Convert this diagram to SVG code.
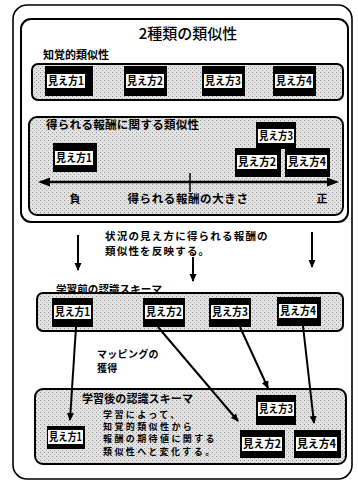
<svg xmlns="http://www.w3.org/2000/svg" width="358" height="490" viewBox="0 0 358 490">
<style>
.t{font-family:"Noto Sans CJK JP","Noto Sans CJK SC",sans-serif;font-weight:bold;fill:#000}
.frame{fill:none;stroke:#000;stroke-width:1.6}
.box{fill:#fff;stroke:#000;stroke-width:2}
.gray{fill:url(#dots);stroke:#000;stroke-width:2}
.nb{fill:#000}
.np{fill:#fff}
.nt{font-family:"Noto Sans CJK JP",sans-serif;font-weight:bold;font-size:11px;fill:#000}
.con{stroke:#000;stroke-width:2;fill:none}
</style>
<defs>
<pattern id="dots" width="4" height="4" patternUnits="userSpaceOnUse">
<rect width="4" height="4" fill="#e2e2e2"/>
<rect x="0" y="0" width="1" height="1" fill="#909090"/>
<rect x="2" y="2" width="1" height="1" fill="#ababab"/>
</pattern>
<marker id="ah" markerWidth="8" markerHeight="8" refX="7" refY="4" orient="auto" markerUnits="userSpaceOnUse">
<path d="M0,0.5 L8,4 L0,7.5 Z" fill="#000"/>
</marker>
</defs>
<rect width="358" height="490" fill="#fff"/>
<rect class="frame" x="13" y="5" width="339" height="474" rx="14"/>
<g id="similarity-box">
<rect class="box" x="21" y="19" width="327" height="203" rx="10"/>
<text class="t" x="188" y="39" font-size="15" text-anchor="middle" style="font-weight:500">2種類の類似性</text>
<text class="t" x="43" y="59" font-size="11">知覚的類似性</text>
</g>
<g id="perceptual">
<rect class="gray" x="32" y="64" width="311" height="36" rx="6"/>
</g>
<g id="p1"><rect class="nb" x="45" y="66" width="48" height="30"/><rect class="np" x="47" y="74" width="38" height="14"/><text class="nt" x="48" y="85" textLength="36" lengthAdjust="spacingAndGlyphs">見え方1</text></g>
<g id="p2"><rect class="nb" x="124" y="66" width="43" height="30"/><rect class="np" x="126" y="74" width="38" height="14"/><text class="nt" x="127" y="85" textLength="36" lengthAdjust="spacingAndGlyphs">見え方2</text></g>
<g id="p3"><rect class="nb" x="202" y="66" width="43" height="30"/><rect class="np" x="204" y="74" width="38" height="14"/><text class="nt" x="205" y="85" textLength="36" lengthAdjust="spacingAndGlyphs">見え方3</text></g>
<g id="p4"><rect class="nb" x="273" y="66" width="43" height="30"/><rect class="np" x="275" y="74" width="38" height="14"/><text class="nt" x="276" y="85" textLength="36" lengthAdjust="spacingAndGlyphs">見え方4</text></g>
<g id="reward">
<rect class="gray" x="29" y="117" width="314" height="98" rx="8"/>
<text class="t" x="46" y="129" font-size="11.5" letter-spacing="0.3">得られる報酬に関する類似性</text>
<line x1="48" y1="182" x2="329" y2="182" stroke="#000" stroke-width="2.5"/>
<path d="M38,182 L50,177.5 L50,186.5 Z" fill="#000"/>
<path d="M339,182 L327,177.5 L327,186.5 Z" fill="#000"/>
<line x1="190" y1="173" x2="190" y2="192" stroke="#000" stroke-width="1.5"/>
<text class="t" x="75" y="203" font-size="11" text-anchor="middle">負</text>
<text class="t" x="188" y="203" font-size="11.5" text-anchor="middle" letter-spacing="0.6">得られる報酬の大きさ</text>
<text class="t" x="322" y="203" font-size="11" text-anchor="middle">正</text>
</g>
<g id="r1"><rect class="nb" x="53" y="143" width="44" height="29"/><rect class="np" x="55" y="151" width="38" height="14"/><text class="nt" x="56" y="162" textLength="36" lengthAdjust="spacingAndGlyphs">見え方1</text></g>
<g id="r3"><rect class="nb" x="256" y="122" width="40" height="27"/><rect class="np" x="258" y="129" width="36" height="14"/><text class="nt" x="259" y="140" textLength="34" lengthAdjust="spacingAndGlyphs">見え方3</text></g>
<g id="r2"><rect class="nb" x="235" y="148" width="46" height="29"/><rect class="np" x="237" y="155" width="40" height="14"/><text class="nt" x="238" y="166" textLength="38" lengthAdjust="spacingAndGlyphs">見え方2</text></g>
<g id="r4"><rect class="nb" x="285" y="148" width="45" height="29"/><rect class="np" x="287" y="155" width="40" height="14"/><text class="nt" x="288" y="166" textLength="38" lengthAdjust="spacingAndGlyphs">見え方4</text></g>
<g id="reflect-label">
<text class="t" x="105" y="240" font-size="10.5" letter-spacing="1.2">状況の見え方に得られる報酬の</text>
<text class="t" x="105" y="254.5" font-size="10.5" letter-spacing="1.2">類似性を反映する。</text>
</g>
<g id="schema-before">
<rect class="gray" x="37" y="293" width="306" height="38" rx="6"/>
<text class="t" x="56" y="293" font-size="10.5" letter-spacing="0.1">学習前の認識スキーマ</text>
</g>
<g id="s1"><rect class="nb" x="52" y="298" width="41" height="29"/><rect class="np" x="54" y="305" width="37" height="14"/><text class="nt" x="55" y="316" textLength="35" lengthAdjust="spacingAndGlyphs">見え方1</text></g>
<g id="s2"><rect class="nb" x="143" y="298" width="42" height="29"/><rect class="np" x="145" y="305" width="38" height="14"/><text class="nt" x="146" y="316" textLength="36" lengthAdjust="spacingAndGlyphs">見え方2</text></g>
<g id="s3"><rect class="nb" x="209" y="298" width="42" height="29"/><rect class="np" x="211" y="305" width="38" height="14"/><text class="nt" x="212" y="316" textLength="36" lengthAdjust="spacingAndGlyphs">見え方3</text></g>
<g id="s4"><rect class="nb" x="277" y="297" width="44" height="29"/><rect class="np" x="279" y="304" width="38" height="14"/><text class="nt" x="280" y="315" textLength="36" lengthAdjust="spacingAndGlyphs">見え方4</text></g>
<g id="mapping-label">
<text class="t" x="97" y="358" font-size="10" letter-spacing="0.3">マッピングの</text>
<text class="t" x="97" y="372" font-size="10" letter-spacing="0.3">獲得</text>
</g>
<g id="schema-after">
<rect class="gray" x="35" y="389" width="311" height="75" rx="8"/>
<text class="t" x="82" y="403" font-size="11" letter-spacing="0.1">学習後の認識スキーマ</text>
<text class="t" x="103" y="418" font-size="9" letter-spacing="2.4">学習によって、</text>
<text class="t" x="103" y="430.2" font-size="9" letter-spacing="2.4">知覚的類似性から</text>
<text class="t" x="103" y="442.4" font-size="9" letter-spacing="2.4">報酬の期待値に関する</text>
<text class="t" x="103" y="454.6" font-size="9" letter-spacing="2.4">類似性へと変化する。</text>
</g>
<g id="t1"><rect class="nb" x="47" y="426" width="38" height="23"/><rect class="np" x="48" y="430" width="35" height="14"/><text class="nt" x="49" y="441" textLength="33" lengthAdjust="spacingAndGlyphs">見え方1</text></g>
<g id="t3"><rect class="nb" x="256" y="395" width="40" height="30"/><rect class="np" x="258" y="402" width="36" height="14"/><text class="nt" x="259" y="413" textLength="34" lengthAdjust="spacingAndGlyphs">見え方3</text></g>
<g id="t2"><rect class="nb" x="240" y="430" width="45" height="28"/><rect class="np" x="242" y="437" width="40" height="14"/><text class="nt" x="243" y="448" textLength="38" lengthAdjust="spacingAndGlyphs">見え方2</text></g>
<g id="t4"><rect class="nb" x="294" y="430" width="47" height="28"/><rect class="np" x="296" y="437" width="41" height="14"/><text class="nt" x="297" y="448" textLength="39" lengthAdjust="spacingAndGlyphs">見え方4</text></g>
<g id="connectors">
<line class="con" x1="78" y1="235" x2="78" y2="270" marker-end="url(#ah)"/>
<line class="con" x1="193" y1="257" x2="193" y2="281" marker-end="url(#ah)"/>
<line class="con" x1="312" y1="232" x2="312" y2="267" marker-end="url(#ah)"/>
<line class="con" x1="76" y1="327" x2="70" y2="420" marker-end="url(#ah)"/>
<line class="con" x1="158" y1="327" x2="238" y2="421" marker-end="url(#ah)"/>
<line class="con" x1="240" y1="327" x2="268" y2="388" marker-end="url(#ah)"/>
<line class="con" x1="303" y1="326" x2="314" y2="423" marker-end="url(#ah)"/>
</g>
</svg>
